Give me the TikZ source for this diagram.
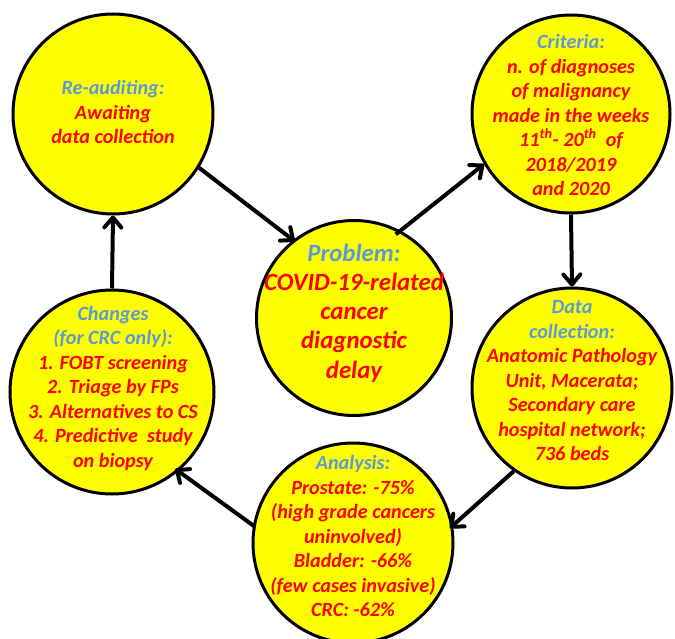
\documentclass[tikz,border=0pt]{standalone}
\usepackage{fontspec}
\setmainfont{Carlito}
\usetikzlibrary{arrows.meta}
\definecolor{ttlblue}{RGB}{91,155,213}
\definecolor{txtred}{RGB}{255,0,0}
\definecolor{bubfill}{RGB}{255,255,0}
\tikzset{
  bubble/.style={circle, draw=black, line width=3pt, fill=bubfill, inner sep=0pt},
  txt/.style={align=center, text=txtred, font=\fontsize{20.2}{24.5}\selectfont\bfseries\itshape},
  bigtxt/.style={align=center, text=txtred, font=\fontsize{24.8}{29.2}\selectfont\bfseries\itshape},
  flow/.style={line width=4pt, -{Straight Barb[length=10pt,width=17pt,round]}},
}
\newcommand{\ttl}[1]{\textcolor{ttlblue}{#1}}
\begin{document}
\begin{tikzpicture}[x=1pt,y=-1pt]
\useasboundingbox (0,0) rectangle (675,639);
% circles
\node[bubble, minimum size=200pt] (re) at (113,114) {};
\node[bubble, minimum size=198pt] (cr) at (571,114) {};
\node[bubble, minimum size=195pt] (pr) at (354,318) {};
\node[bubble, minimum size=204pt] (ch) at (112,392) {};
\node[bubble, minimum size=200pt] (dc) at (572,388) {};
\node[bubble, minimum size=200pt] (an) at (353,543) {};
% texts
\node[txt] (tre) at (113,112) {\ttl{Re-auditing:}\\Awaiting\\data collection};
\node[txt] (tcr) at (571,115) {\ttl{Criteria:}\\n. of diagnoses\\of malignancy\\made in the weeks\\11\textsuperscript{th}- 20\textsuperscript{th}\ \ of\\2018/2019\\and 2020};
\node[bigtxt] (tpr) at (354,313) {\ttl{Problem:}\\COVID-19-related\\cancer\\diagnostic\\delay};
\node[txt] (tch) at (113,388) {\ttl{Changes}\\\ttl{(for CRC only):}\\1. FOBT screening\\2. Triage by FPs\\3. Alternatives to CS\\4. Predictive\ \ study\\on biopsy};
\node[txt] (tdc) at (572,381) {\ttl{Data}\\\ttl{collection:}\\Anatomic Pathology\\Unit, Macerata;\\Secondary care\\hospital network;\\736 beds};
\node[txt] (tan) at (353,536) {\ttl{Analysis:}\\Prostate: -75\%\\(high grade cancers\\uninvolved)\\Bladder: -66\%\\(few cases invasive)\\CRC: -62\%};
% connectors
\draw[flow, shorten >=-2pt] (re.-32) -- (pr.128);
\draw[flow, shorten <=-6pt] (pr.62) -- (cr.-150);
\draw[flow] (cr.south) -- (dc.north);
\draw[flow, shorten >=-4pt] (dc.-125) -- (an.10);
\draw[flow, shorten <=-2pt, shorten >=-4pt] (an.170) -- (ch.-50);
\draw[flow] (ch.north) -- (re.south);
\end{tikzpicture}
\end{document}
